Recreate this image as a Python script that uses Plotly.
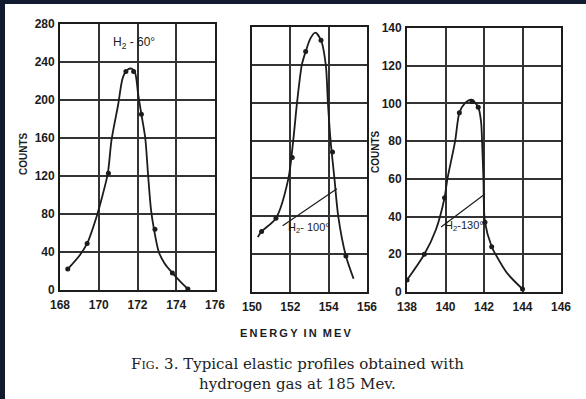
import plotly.graph_objects as go

# ---------------- data ----------------
# Panel 1: H2 - 60 deg
p1_pts_x = [168.4, 169.4, 170.5, 171.4, 171.8, 172.2, 172.9, 173.8, 174.6]
p1_pts_y = [22, 49, 123, 230, 230, 185, 64, 18, 1]
p1_curve_x = [168.4, 169.0, 169.4, 169.9, 170.2, 170.47, 170.66, 171.0, 171.25, 171.5,
              171.7, 171.87, 172.04, 172.2, 172.4, 172.55, 172.7, 172.85, 173.1, 173.4,
              173.8, 174.2, 174.6]
p1_curve_y = [22, 36, 49, 78, 100, 123, 158, 195, 224, 232, 233, 229, 205, 185, 160, 120,
              84, 64, 40, 28, 18, 9, 1]

# Panel 2: H2 - 100 deg
p2_pts_x = [150.5, 151.25, 152.1, 152.8, 153.6, 154.2, 154.9]
p2_pts_y = [32, 39, 71, 127, 133, 74, 19]
p2_curve_x = [150.3, 150.5, 151.25, 151.9, 152.15, 152.35, 152.6, 152.8, 153.05, 153.3,
              153.6, 153.85, 153.96, 154.1, 154.3, 154.5, 154.9, 155.3]
p2_curve_y = [29, 32, 39, 60, 80, 100, 120, 127, 134, 137, 133, 120, 100, 80, 60, 40, 19, 7]

# Panel 3: H2 - 130 deg
p3_pts_x = [138.0, 138.9, 139.95, 140.72, 141.38, 141.7, 142.05, 142.4, 144.0]
p3_pts_y = [6.4, 20, 50, 95, 101, 98, 37, 24, 1.6]
p3_curve_x = [138.0, 138.9, 139.5, 139.95, 140.1, 140.5, 140.72, 141.0, 141.35, 141.7,
              141.85, 141.9, 141.97, 142.05, 142.4, 142.6, 143.2, 144.0]
p3_curve_y = [6.4, 20, 33, 50, 60, 80, 95, 100, 102, 98, 90, 80, 60, 37, 24, 20, 10, 1.6]

# leader lines for the labels (data units)
p2_leader_x = [151.6, 154.43]
p2_leader_y = [35, 54.6]
p3_leader_x = [139.77, 142.05]
p3_leader_y = [34.5, 52]

labels = ["H<sub>2</sub> - 60°", "H<sub>2</sub>- 100°", "H<sub>2</sub>-130°"]

p1_xticks = [168, 170, 172, 174, 176]
p1_yticks = [0, 40, 80, 120, 160, 200, 240, 280]
p2_xticks = [150, 152, 154, 156]
p3_xticks = [138, 140, 142, 144, 146]
p23_yticks = [0, 20, 40, 60, 80, 100, 120, 140]

# ---------------- figure ----------------
W, H = 586, 399
INK = "#1c1c1c"

def dx(px):
    return px / W

def dy(py):
    return 1 - py / H

fig = go.Figure()

panels = [
    ("x", "y", p1_curve_x, p1_curve_y, p1_pts_x, p1_pts_y),
    ("x2", "y2", p2_curve_x, p2_curve_y, p2_pts_x, p2_pts_y),
    ("x3", "y3", p3_curve_x, p3_curve_y, p3_pts_x, p3_pts_y),
]
for xa, ya, cx, cy, px, py in panels:
    fig.add_trace(go.Scatter(x=cx, y=cy, xaxis=xa, yaxis=ya, mode="lines",
                             line=dict(color=INK, width=1.8, shape="spline", smoothing=0.8),
                             hoverinfo="skip", showlegend=False))
    fig.add_trace(go.Scatter(x=px, y=py, xaxis=xa, yaxis=ya, mode="markers",
                             marker=dict(color=INK, size=5),
                             showlegend=False))

fig.add_trace(go.Scatter(x=p2_leader_x, y=p2_leader_y, xaxis="x2", yaxis="y2", mode="lines",
                         line=dict(color=INK, width=1.2), showlegend=False, hoverinfo="skip"))
fig.add_trace(go.Scatter(x=p3_leader_x, y=p3_leader_y, xaxis="x3", yaxis="y3", mode="lines",
                         line=dict(color=INK, width=1.2), showlegend=False, hoverinfo="skip"))

tickfont = dict(family="Liberation Sans, Arial", size=12, color=INK, weight="bold")
common = dict(showline=True, mirror=True, linecolor=INK, linewidth=1.8,
              showgrid=True, gridcolor="#333333", gridwidth=1.6, zeroline=False,
              ticks="", tickfont=tickfont, fixedrange=True, automargin=False)

fig.update_layout(
    width=W, height=H,
    margin=dict(l=0, r=0, t=0, b=0, pad=0, autoexpand=False),
    paper_bgcolor="#111a2e",
    plot_bgcolor="rgba(0,0,0,0)",
    showlegend=False,
    xaxis=dict(domain=[dx(60), dx(215)], range=[168, 176], tickvals=p1_xticks,
               anchor="y", ticklabelstandoff=3, **common),
    yaxis=dict(domain=[dy(290), dy(24)], range=[0, 280], tickvals=p1_yticks,
               anchor="x", ticklabelstandoff=1, **common),
    xaxis2=dict(domain=[dx(252), dx(367)], range=[150, 156], tickvals=p2_xticks,
                anchor="y2", ticklabelstandoff=3, **common),
    yaxis2=dict(domain=[dy(292), dy(27)], range=[0, 140], tickvals=p23_yticks,
                showticklabels=False, anchor="x2", **common),
    xaxis3=dict(domain=[dx(407), dx(561)], range=[138, 146], tickvals=p3_xticks,
                anchor="y3", ticklabelstandoff=3, **common),
    yaxis3=dict(domain=[dy(292), dy(28)], range=[0, 140], tickvals=p23_yticks,
                anchor="x3", ticklabelstandoff=1, **common),
)

# white page on the dark frame
fig.add_shape(type="rect", xref="paper", yref="paper", x0=dx(5), x1=1.02, y0=-0.02, y1=dy(4),
              fillcolor="white", line=dict(width=0), layer="below")

lab_font = dict(family="Liberation Sans, Arial", size=12, color=INK)
fig.add_annotation(x=171.8, y=260, xref="x", yref="y", text=labels[0], showarrow=False,
                   font=lab_font, xanchor="center", yanchor="middle")
fig.add_annotation(x=151.75, y=34, xref="x2", yref="y2", text=labels[1], showarrow=False,
                   font=dict(family="Liberation Sans, Arial", size=11, color=INK),
                   xanchor="left", yanchor="middle")
fig.add_annotation(x=139.85, y=35, xref="x3", yref="y3", text=labels[2], showarrow=False,
                   font=dict(family="Liberation Sans, Arial", size=11, color=INK),
                   xanchor="left", yanchor="middle")

small_bold = dict(family="Liberation Sans, Arial", size=10, color=INK, weight="bold")
fig.add_annotation(x=dx(23), y=dy(154), xref="paper", yref="paper", text="COUNTS",
                   textangle=-90, showarrow=False, font=small_bold,
                   xanchor="center", yanchor="middle")
fig.add_annotation(x=dx(375), y=dy(152), xref="paper", yref="paper", text="COUNTS",
                   textangle=-90, showarrow=False, font=small_bold,
                   xanchor="center", yanchor="middle")
ts = "\u2009"
fig.add_annotation(x=dx(296), y=dy(333), xref="paper", yref="paper",
                   text=ts.join("ENERGY") + "  " + ts.join("IN") + "  " + ts.join("MEV"),
                   showarrow=False, xanchor="center", yanchor="middle",
                   font=dict(family="Liberation Sans, Arial", size=11, color=INK, weight="bold"))

cap_font = dict(family="DejaVu Serif, Liberation Serif, serif", size=15, color="#222")
fig.add_annotation(x=dx(297), y=dy(374), xref="paper", yref="paper",
                   text="F<span style='font-size:11px'>IG</span>. 3. Typical elastic profiles obtained with"
                        "<br>hydrogen gas at 185 Mev.",
                   showarrow=False, font=cap_font, xanchor="center", yanchor="middle",
                   align="center")

fig.write_html("out.html")
